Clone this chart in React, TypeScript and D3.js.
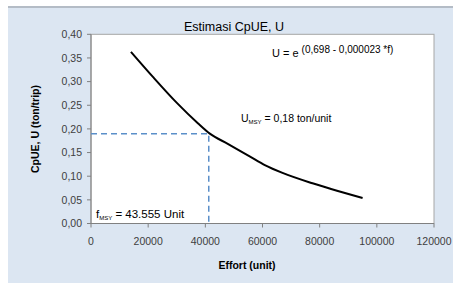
import React from "react";
import * as d3 from "d3";

const effort = [13970, 21660, 30040, 37380, 41570, 48000, 55500, 61000, 67000, 77500, 84000, 95020];
const cpue = [0.363, 0.31, 0.255, 0.212, 0.19, 0.168, 0.142, 0.123, 0.107, 0.085, 0.073, 0.054];
const xTicks = [0, 20000, 40000, 60000, 80000, 100000, 120000];
const yTicks = [0, 0.05, 0.1, 0.15, 0.2, 0.25, 0.3, 0.35, 0.4];
const msyEffort = 41200;
const msyU = 0.19;

const W = 453;
const H = 283;
const margin = { left: 91, right: 19, top: 34.3, bottom: 59.5 };

export default function App() {
  const x = d3.scaleLinear().domain([0, 120000]).range([margin.left, W - margin.right]);
  const y = d3.scaleLinear().domain([0, 0.4]).range([H - margin.bottom, margin.top]);
  const pts: [number, number][] = effort.map((e, i) => [e, cpue[i]]);
  const line = d3
    .line<[number, number]>()
    .x((d) => x(d[0]))
    .y((d) => y(d[1]))
    .curve(d3.curveMonotoneX);
  const fmt = (v: number) => v.toFixed(2).replace(".", ",");
  const font = "Liberation Sans, Arial, sans-serif";
  const x0 = x(0), x1 = x(120000), y0 = y(0), y1 = y(0.4);
  return (
    <svg
      width={W}
      height={H}
      style={{ position: "absolute", left: 0, top: 0, display: "block" }}
      fontFamily={font}
    >
      <rect x={0} y={0} width={W} height={H} fill="#ffffff" />
      <rect x={8} y={6} width={W - 8} height={H - 6} fill="#dce6f2" />
      <rect x={8} y={6} width={W - 8} height={2} fill="#b4bcc6" />
      <rect x={x0} y={y1} width={x1 - x0} height={y0 - y1} fill="#ffffff" stroke="#a6a6a6" strokeWidth={1} />
      {/* axes */}
      <line x1={x0} x2={x0} y1={y1} y2={y0} stroke="#808080" />
      <line x1={x0} x2={x1} y1={y0} y2={y0} stroke="#808080" />
      {yTicks.map((t) => (
        <g key={"y" + t}>
          <line x1={x0 - 4} x2={x0} y1={y(t)} y2={y(t)} stroke="#808080" />
          <text x={82} y={y(t) + 3.8} textAnchor="end" fontSize={10.5} fill="#404040">
            {fmt(t)}
          </text>
        </g>
      ))}
      {xTicks.map((t) => (
        <g key={"x" + t}>
          <line x1={x(t)} x2={x(t)} y1={y0} y2={y0 + 4} stroke="#808080" />
          <text x={x(t)} y={245} textAnchor="middle" fontSize={10.5} fill="#404040">
            {t}
          </text>
        </g>
      ))}
      {/* MSY dashed guides */}
      <path
        d={`M${x0},${y(msyU)}H${x(msyEffort)}V${y0}`}
        fill="none"
        stroke="#5b8fc9"
        strokeWidth={1.5}
        strokeDasharray="6,4"
      />
      {/* curve */}
      <path d={line(pts) || ""} fill="none" stroke="#000000" strokeWidth={2} />
      {/* texts */}
      <text x={234} y={31} textAnchor="middle" fontSize={12.5} fill="#000">
        Estimasi CpUE, U
      </text>
      <text x={272} y={57} fontSize={11} fill="#000">
        U = e
        <tspan dx={3} dy={-4} fontSize={10}>
          (0,698 - 0,000023 *f)
        </tspan>
      </text>
      <text x={241} y={122} fontSize={10.5} fill="#000">
        U
        <tspan fontSize={6} dy={2}>MSY</tspan>
        <tspan dy={-2}> = 0,18 ton/unit</tspan>
      </text>
      <text x={96} y={218} fontSize={11.5} fill="#000">
        f
        <tspan fontSize={6} dy={2}>MSY</tspan>
        <tspan dy={-2}> = 43.555 Unit</tspan>
      </text>
      <text
        transform={`translate(39,129) rotate(-90)`}
        textAnchor="middle"
        fontSize={10.5}
        fontWeight="bold"
        fill="#000"
      >
        CpUE, U (ton/trip)
      </text>
      <text x={247} y={269} textAnchor="middle" fontSize={10.5} fontWeight="bold" fill="#000">
        Effort (unit)
      </text>
    </svg>
  );
}
